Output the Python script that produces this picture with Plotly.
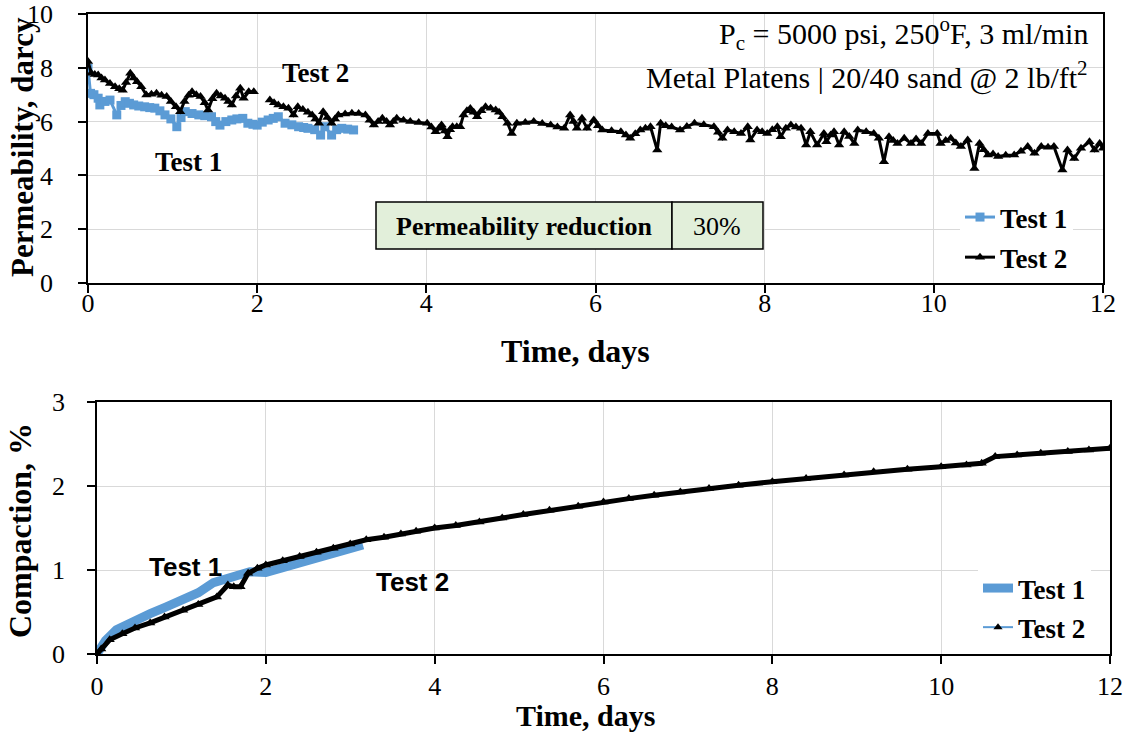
import plotly.graph_objects as go

W, H = 1123, 734
BLUE = "#5B9BD5"
SERIF = "Liberation Serif"
TICKSERIF = "Liberation Serif, Times New Roman, serif"
SANS = "Liberation Sans"

# ---------------- Permeability data (top chart) ----------------
perm_t1_days = [0.00, 0.03, 0.07, 0.12, 0.14, 0.20, 0.26, 0.34, 0.39, 0.44, 0.49, 0.54, 0.60, 0.67,
                0.73, 0.79, 0.85, 0.91, 0.98, 1.05, 1.10, 1.15, 1.23, 1.31, 1.38, 1.46, 1.51, 1.56,
                1.63, 1.70, 1.76, 1.83, 1.89, 1.95, 2.00, 2.06, 2.13, 2.19, 2.25, 2.33, 2.41, 2.49,
                2.55, 2.60, 2.68, 2.75, 2.80, 2.88, 2.94, 3.00, 3.07, 3.14]
perm_t1_darcy = [7.98, 7.05, 7.00, 6.87, 6.62, 6.75, 6.80, 6.25, 6.60, 6.74, 6.68, 6.62, 6.58, 6.55,
                 6.52, 6.50, 6.40, 6.25, 6.10, 5.81, 6.15, 6.37, 6.30, 6.25, 6.22, 6.18, 6.00, 5.87,
                 6.00, 6.06, 6.10, 6.12, 5.94, 5.90, 5.87, 5.98, 6.06, 6.12, 6.18, 5.94, 5.88, 5.81,
                 5.78, 5.75, 5.70, 5.50, 5.81, 5.50, 5.70, 5.75, 5.72, 5.69]

perm_t2_days = [0.00, 0.04, 0.08, 0.12, 0.16, 0.20, 0.26, 0.32, 0.37, 0.41, 0.45, 0.50, 0.54, 0.58,
                0.63, 0.69, 0.75, 0.81, 0.87, 0.93, 0.98, 1.04, 1.09, 1.14, 1.19, 1.23, 1.28, 1.33,
                1.38, 1.42, 1.47, 1.52, 1.57, 1.62, 1.66, 1.70, 1.75, 1.80, 1.84, 1.90, 1.96, 2.06,
                2.15, 2.20, 2.25, 2.31, 2.37, 2.43, 2.48, 2.54, 2.60, 2.65, 2.69, 2.73, 2.78, 2.83,
                2.88, 2.92, 2.96, 3.04, 3.12, 3.20, 3.28, 3.33, 3.38, 3.43, 3.48, 3.53, 3.57, 3.61,
                3.65, 3.73, 3.81, 3.91, 4.01, 4.06, 4.11, 4.15, 4.18, 4.22, 4.25, 4.28, 4.31, 4.36,
                4.40, 4.44, 4.48, 4.52, 4.56, 4.60, 4.65, 4.70, 4.76, 4.82, 4.86, 4.90, 4.96, 5.01,
                5.07, 5.17, 5.27, 5.37, 5.47, 5.55, 5.63, 5.70, 5.74, 5.78, 5.84, 5.90, 5.98, 6.03,
                6.08, 6.19, 6.30, 6.36, 6.41, 6.47, 6.53, 6.59, 6.65, 6.73, 6.77, 6.83, 6.90, 7.00,
                7.08, 7.17, 7.28, 7.40, 7.45, 7.50, 7.56, 7.64, 7.72, 7.80, 7.83, 7.91, 7.97, 8.03,
                8.09, 8.15, 8.19, 8.25, 8.31, 8.37, 8.43, 8.49, 8.54, 8.62, 8.70, 8.73, 8.78, 8.82,
                8.88, 8.94, 9.00, 9.06, 9.10, 9.20, 9.29, 9.35, 9.41, 9.47, 9.52, 9.57, 9.65, 9.73,
                9.79, 9.85, 9.93, 10.04, 10.08, 10.14, 10.20, 10.26, 10.32, 10.40, 10.48, 10.54,
                10.59, 10.64, 10.70, 10.76, 10.85, 10.95, 11.03, 11.11, 11.19, 11.27, 11.35, 11.42,
                11.52, 11.58, 11.66, 11.74, 11.84, 11.90, 11.96, 12.00]
perm_t2_darcy = [8.23, 7.80, 7.75, 7.73, 7.62, 7.55, 7.42, 7.30, 7.22, 7.17, 7.45, 7.80, 7.62, 7.48,
                 7.30, 6.99, 7.02, 7.05, 6.98, 6.93, 6.75, 6.55, 6.37, 6.75, 6.98, 7.11, 7.00, 6.93,
                 6.70, 6.43, 6.85, 7.05, 6.95, 6.87, 6.75, 6.62, 6.95, 7.24, 6.87, 7.11, 7.11, None,
                 6.80, 6.70, 6.62, 6.55, 6.50, 6.25, 6.55, 6.45, 6.35, 6.25, 6.10, 5.94, 6.37, 6.15,
                 5.94, 6.10, 6.25, 6.28, 6.31, 6.30, 6.25, 6.05, 5.87, 6.00, 6.12, 6.00, 5.87, 6.00,
                 6.12, 6.05, 6.00, 5.97, 5.94, 5.80, 5.62, 5.75, 5.87, 5.65, 5.44, 5.70, 5.81, 5.81,
                 5.81, 6.25, 6.40, 6.49, 6.35, 6.18, 6.40, 6.55, 6.50, 6.43, 6.35, 6.18, 5.94, 5.56,
                 5.94, 5.97, 6.00, 5.93, 5.87, 5.80, 5.75, 6.25, 6.00, 5.75, 6.12, 5.75, 6.06, 5.85,
                 5.69, 5.66, 5.62, 5.50, 5.38, 5.55, 5.69, 5.75, 5.81, 4.94, 5.94, 5.85, 5.80, 5.69,
                 5.82, 5.94, 5.88, 5.81, 5.60, 5.38, 5.69, 5.62, 5.56, 5.81, 5.32, 5.69, 5.62, 5.56,
                 5.70, 5.81, 5.44, 5.75, 5.87, 5.80, 5.75, 5.13, 5.62, 5.13, 5.56, 5.25, 5.50, 5.62,
                 5.13, 5.62, 5.45, 5.19, 5.69, 5.62, 5.56, 5.38, 4.51, 5.44, 5.30, 5.19, 5.38, 5.19,
                 5.35, 5.19, 5.56, 5.56, 5.19, 5.30, 5.38, 5.20, 5.07, 5.32, 4.26, 5.19,
                 4.95, 4.76, 4.80, 4.70, 4.75, 4.76, 4.90, 5.07, 4.82, 5.07, 5.05, 5.07,
                 4.20, 4.94, 4.63, 5.01, 5.25, 4.94, 5.19, 5.01]

# ---------------- Compaction data (bottom chart) ----------------
comp_t1_days = [0.00, 0.04, 0.10, 0.23, 0.40, 0.63, 0.82, 1.02, 1.20, 1.38, 1.50, 1.60, 1.81,
                2.00, 2.20, 2.40, 2.60, 2.80, 3.00, 3.15]
comp_t1_pct = [0.00, 0.09, 0.16, 0.29, 0.38, 0.48, 0.56, 0.64, 0.73, 0.85, 0.88, 0.92, 0.98,
               0.97, 1.03, 1.08, 1.14, 1.20, 1.26, 1.30]

comp_t2_days = [0.00, 0.05, 0.15, 0.30, 0.45, 0.63, 0.80, 1.02, 1.20, 1.42, 1.55, 1.62, 1.70,
                1.79, 1.90, 2.00, 2.20, 2.40, 2.60, 2.80, 3.00, 3.19, 3.40, 3.60, 3.78, 4.00,
                4.25, 4.53, 4.80, 5.05, 5.36, 5.70, 6.00, 6.30, 6.60, 6.91, 7.25, 7.60, 8.00,
                8.40, 8.85, 9.20, 9.60, 10.00, 10.30, 10.48, 10.64, 10.90, 11.18, 11.50, 11.75, 12.00]
comp_t2_pct = [0.00, 0.06, 0.17, 0.24, 0.31, 0.37, 0.44, 0.52, 0.59, 0.68, 0.82, 0.80, 0.80,
               0.96, 1.02, 1.06, 1.11, 1.16, 1.21, 1.26, 1.31, 1.36, 1.39, 1.43, 1.46, 1.50,
               1.53, 1.57, 1.62, 1.66, 1.71, 1.76, 1.81, 1.85, 1.89, 1.93, 1.97, 2.01, 2.05,
               2.09, 2.13, 2.17, 2.20, 2.23, 2.25, 2.27, 2.35, 2.37, 2.39, 2.41, 2.43, 2.45]

x_ticks = [0, 2, 4, 6, 8, 10, 12]
perm_ticks = [0, 2, 4, 6, 8, 10]
comp_ticks = [0, 1, 2, 3]


def px(x):
    return x / W


def py(y):
    return 1 - y / H


fig = go.Figure()

fig.add_trace(go.Scatter(
    x=perm_t1_days, y=perm_t1_darcy, name="Test 1", mode="lines+markers",
    line=dict(color=BLUE, width=3), marker=dict(symbol="square", size=9, color=BLUE),
    xaxis="x", yaxis="y", legend="legend", legendgroup="a"))
fig.add_trace(go.Scatter(
    x=perm_t2_days, y=perm_t2_darcy, name="Test 2", mode="lines+markers",
    line=dict(color="black", width=3), marker=dict(symbol="triangle-up", size=9, color="black"),
    connectgaps=False, xaxis="x", yaxis="y", legend="legend", legendgroup="b"))

fig.add_trace(go.Scatter(
    x=comp_t1_days, y=comp_t1_pct, name="Test 1", mode="lines",
    line=dict(color=BLUE, width=9), xaxis="x2", yaxis="y2", legend="legend2", legendgroup="c"))
fig.add_trace(go.Scatter(
    x=comp_t2_days, y=comp_t2_pct, name="Test 2", mode="lines+markers",
    line=dict(color="black", width=5), marker=dict(symbol="triangle-up", size=9, color="black"),
    xaxis="x2", yaxis="y2", showlegend=False))
# legend-only entry for Test 2 (blue line, black triangle as in the original legend)
fig.add_trace(go.Scatter(
    x=[None], y=[None], name="Test 2", mode="lines+markers",
    line=dict(color=BLUE, width=2), marker=dict(symbol="triangle-up", size=8, color="black"),
    xaxis="x2", yaxis="y2", legend="legend2", legendgroup="d"))


def axis(**kw):
    d = dict(
        showline=True, mirror=True, linecolor="black", linewidth=1.5,
        showgrid=True, gridcolor="#D9D9D9", gridwidth=1, zeroline=False,
        ticks="outside", ticklen=8, tickcolor="black", tickwidth=1.5,
        tickfont=dict(family=TICKSERIF, size=26, color="black", weight="normal"),
        automargin=False, ticklabeloverflow="allow",
    )
    d.update(kw)
    return d


fig.update_layout(
    template="none",
    width=W, height=H, margin=dict(l=0, r=0, t=0, b=0),
    paper_bgcolor="white", plot_bgcolor="white",
    font=dict(family=TICKSERIF, size=26, color="black"),
    xaxis=axis(domain=[px(88), px(1103)], range=[0, 12], tickvals=x_ticks,
               anchor="y", ticklabelstandoff=-12),
    yaxis=axis(domain=[py(283), py(14)], range=[0, 10], tickvals=perm_ticks,
               anchor="x", ticklabelstandoff=20),
    xaxis2=axis(domain=[px(97), px(1110)], range=[0, 12], tickvals=x_ticks,
                anchor="y2", ticklabelstandoff=0),
    yaxis2=axis(domain=[py(654), py(402)], range=[0, 3], tickvals=comp_ticks,
                anchor="x2", ticklabelstandoff=17),
    legend=dict(x=px(960), y=py(193), xanchor="left", yanchor="top",
                bgcolor="white", borderwidth=0, tracegroupgap=2,
                font=dict(family=SERIF, size=27, color="black", weight="bold")),
    legend2=dict(x=px(978), y=py(564), xanchor="left", yanchor="top",
                 bgcolor="white", borderwidth=0, tracegroupgap=1,
                 font=dict(family=SERIF, size=27, color="black", weight="bold")),
    showlegend=True,
)

shapes = [
    dict(type="rect", xref="paper", yref="paper", x0=px(376), x1=px(672), y0=py(249), y1=py(202),
         fillcolor="#E2EFDA", line=dict(color="black", width=1.5), layer="above"),
    dict(type="rect", xref="paper", yref="paper", x0=px(672), x1=px(763), y0=py(249), y1=py(202),
         fillcolor="#E2EFDA", line=dict(color="black", width=1.5), layer="above"),
]
fig.update_layout(shapes=shapes)


def ann(text, x, y, size, family=SERIF, bold=False, xanchor="center", angle=0):
    return dict(text=("<b>%s</b>" % text) if bold else text, x=px(x), y=py(y),
                xref="paper", yref="paper", xanchor=xanchor, yanchor="middle",
                showarrow=False, textangle=angle,
                font=dict(family=family, size=size, color="black"))


annotations = [
    ann("P<sub>c</sub> = 5000 psi, 250<sup>o</sup>F, 3 ml/min", 1090, 33, 30, xanchor="right"),
    ann("Metal Platens | 20/40 sand @ 2 lb/ft<sup>2</sup>", 1090, 75, 30, xanchor="right"),
    ann("Test 2", 315, 73, 27, bold=True),
    ann("Test 1", 188, 162, 27, bold=True),
    ann("Permeability reduction", 524, 226, 26, bold=True),
    ann("30%", 717, 226, 26),
    ann("Test 1", 185, 567, 26, family=SANS, bold=True),
    ann("Test 2", 412, 582, 26, family=SANS, bold=True),
    ann("Time, days", 575, 351, 32, bold=True),
    ann("Time, days", 585, 715, 30, bold=True),
    ann("Permeability, darcy", 22, 147, 31, bold=True, angle=-90),
    ann("Compaction, %", 20, 531, 32, bold=True, angle=-90),
]
fig.update_layout(annotations=annotations)

fig.write_html("out.html")
